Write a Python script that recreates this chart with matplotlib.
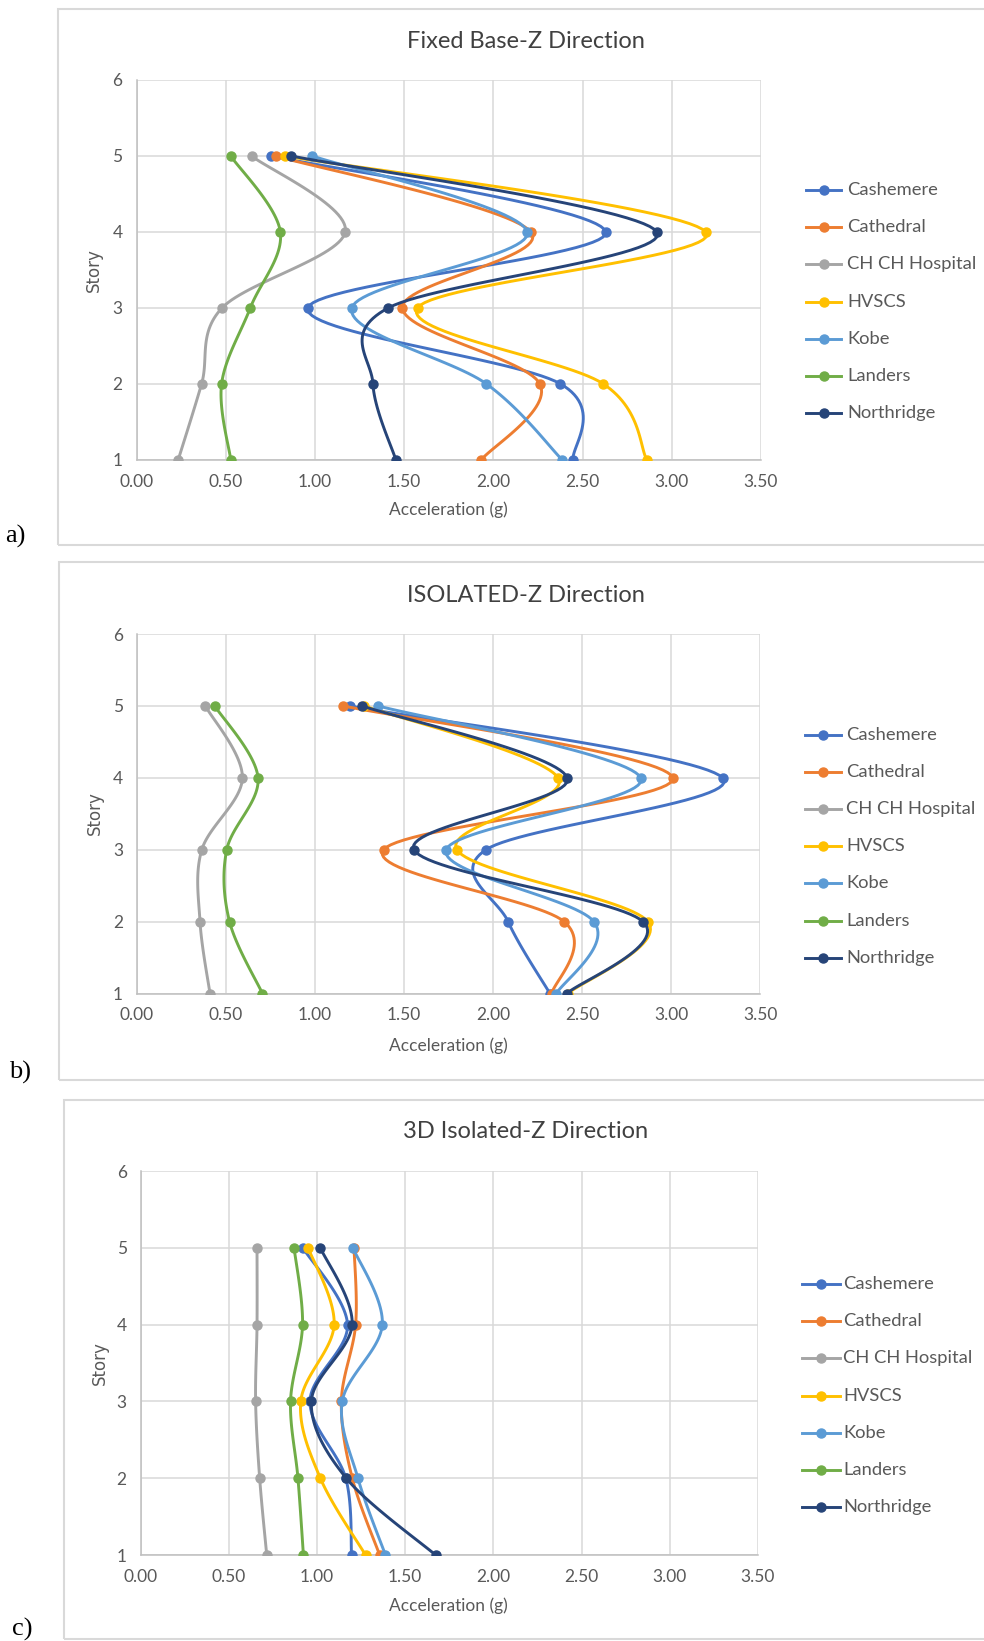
import numpy as np
import matplotlib.pyplot as plt
from matplotlib.lines import Line2D
from matplotlib.patches import Rectangle

W, H = 984, 1641

stories = [1, 2, 3, 4, 5]
names = ["Cashemere", "Cathedral", "CH CH Hospital", "HVSCS", "Kobe", "Landers", "Northridge"]
colors = ["#4472C4", "#ED7D31", "#A5A5A5", "#FFC000", "#5B9BD5", "#70AD47", "#264478"]

# peak acceleration (g) per story 1..5, one row per record in `names` order
fixed_base = [
    [2.447, 2.375, 0.960, 2.630, 0.756],
    [1.933, 2.260, 1.490, 2.210, 0.780],
    [0.234, 0.365, 0.480, 1.170, 0.645],
    [2.860, 2.615, 1.575, 3.190, 0.833],
    [2.385, 1.960, 1.207, 2.190, 0.986],
    [0.528, 0.477, 0.638, 0.806, 0.528],
    [1.453, 1.325, 1.412, 2.916, 0.868],
]
isolated = [
    [2.320, 2.085, 1.960, 3.290, 1.195],
    [2.330, 2.400, 1.385, 3.010, 1.160],
    [0.410, 0.354, 0.364, 0.592, 0.384],
    [2.420, 2.870, 1.797, 2.366, 1.277],
    [2.356, 2.567, 1.737, 2.830, 1.355],
    [0.705, 0.520, 0.504, 0.680, 0.437],
    [2.414, 2.843, 1.556, 2.417, 1.265],
]
isolated_3d = [
    [1.196, 1.163, 0.960, 1.173, 0.920],
    [1.355, 1.200, 1.138, 1.219, 1.210],
    [0.715, 0.675, 0.652, 0.660, 0.660],
    [1.275, 1.019, 0.908, 1.097, 0.950],
    [1.388, 1.232, 1.143, 1.370, 1.204],
    [0.923, 0.892, 0.850, 0.918, 0.870],
    [1.672, 1.166, 0.968, 1.199, 1.019],
]

panels = [
    ("Fixed Base-Z Direction", "a)", fixed_base),
    ("ISOLATED-Z Direction", "b)", isolated),
    ("3D Isolated-Z Direction", "c)", isolated_3d),
]

FONT = "Lato"
TXT = "#595959"


def smooth(x, y, n=30):
    # Excel-style smoothed line: cubic Bezier through the points
    p = np.column_stack([x, y]).astype(float)
    ext = np.vstack([p[0], p, p[-1]])
    t = np.linspace(0, 1, n)[:, None]
    out = []
    for i in range(len(p) - 1):
        p0, p3 = ext[i + 1], ext[i + 2]
        c1 = p0 + (ext[i + 2] - ext[i]) / 6
        c2 = p3 - (ext[i + 3] - ext[i + 1]) / 6
        seg = (1 - t) ** 3 * p0 + 3 * (1 - t) ** 2 * t * c1 + 3 * (1 - t) * t ** 2 * c2 + t ** 3 * p3
        out.append(seg if i == 0 else seg[1:])
    out = np.vstack(out)
    return out[:, 0], out[:, 1]


def fx(v):
    return v / W


def fy(v):
    return 1 - v / H


fig = plt.figure(figsize=(W / 100, H / 100), dpi=100)

# pixel layout of each panel: frame, axes, title, labels, legend
layout = [
    dict(frame=(57.7, 8.7, 544.7), ax=(136.5, 80, 761, 459.7), title=41, xlab=510, ylab=(94, 270),
         tag=(5, 536), leg=(806, 841, 847, 190)),
    dict(frame=(59.3, 561.7, 1079.7), ax=(137, 634, 760, 993.6), title=595, xlab=1046, ylab=(95, 813),
         tag=(9, 1072), leg=(805, 841, 846, 734.6)),
    dict(frame=(64, 1099.7, 1639.3), ax=(140.6, 1171, 758, 1555), title=1132, xlab=1606, ylab=(100, 1363),
         tag=(12, 1629), leg=(802, 840, 843, 1284)),
]

for (title, tag, data), L in zip(panels, layout):
    fl, ft, fb = L["frame"]
    fig.add_artist(Rectangle((fx(fl), fy(fb)), fx(1000 - fl), (fb - ft) / H, transform=fig.transFigure,
                             facecolor="none", edgecolor="#D9D9D9", lw=1.5))
    l, t, r, b = L["ax"]
    ax = fig.add_axes([fx(l), fy(b), fx(r - l), (b - t) / H])
    for s, vals in enumerate(data):
        xs, ys = smooth(vals, stories)
        ax.plot(xs, ys, color=colors[s], lw=2.1, solid_capstyle="round", zorder=3 + s)
        ax.plot(vals, stories, "o", color=colors[s], ms=6.5, zorder=3 + s)
    ax.set_xlim(0, 3.5)
    ax.set_ylim(1, 6)
    ax.set_xticks(np.arange(0, 3.51, 0.5))
    ax.set_yticks(range(1, 7))
    ax.set_xticklabels([f"{v:.2f}" for v in np.arange(0, 3.51, 0.5)])
    ax.grid(True, color="#D9D9D9", lw=1.1, zorder=0)
    ax.tick_params(length=0, labelsize=12.5, labelcolor=TXT, pad=10)
    for lab in ax.get_xticklabels() + ax.get_yticklabels():
        lab.set_fontfamily(FONT)
    for side in ["top", "right"]:
        ax.spines[side].set_visible(False)
    for side in ["left", "bottom"]:
        ax.spines[side].set_color("#BFBFBF")
        ax.spines[side].set_linewidth(1.1)
    ax.set_axisbelow(True)
    for sp in ax.spines.values():
        sp.set_zorder(1)

    fig.text(fx(526), fy(L["title"]), title, ha="center", va="center", fontsize=17,
             family=FONT, color="#404040")
    fig.text(fx(448), fy(L["xlab"]), "Acceleration (g)", ha="center", va="center", fontsize=12.5,
             family=FONT, color=TXT)
    fig.text(fx(L["ylab"][0]), fy(L["ylab"][1]), "Story", ha="center", va="center", rotation=90,
             fontsize=12, family="DejaVu Sans", color=TXT)
    fig.text(fx(L["tag"][0]), fy(L["tag"][1]), tag, ha="left", va="center", fontsize=19,
             family="Liberation Serif", color="black")

    x0, x1, xt, y0 = L["leg"]
    for s, name in enumerate(names):
        yy = y0 + s * 37.2
        fig.add_artist(Line2D([fx(x0), fx(x1)], [fy(yy), fy(yy)], color=colors[s], lw=2.1,
                              transform=fig.transFigure))
        fig.add_artist(Line2D([fx((x0 + x1) / 2)], [fy(yy)], marker="o", ms=6.5, color=colors[s],
                              transform=fig.transFigure))
        fig.text(fx(xt), fy(yy), name, ha="left", va="center", fontsize=13.2, family=FONT, color=TXT)

fig.savefig("out.png", dpi=100, facecolor="white")
